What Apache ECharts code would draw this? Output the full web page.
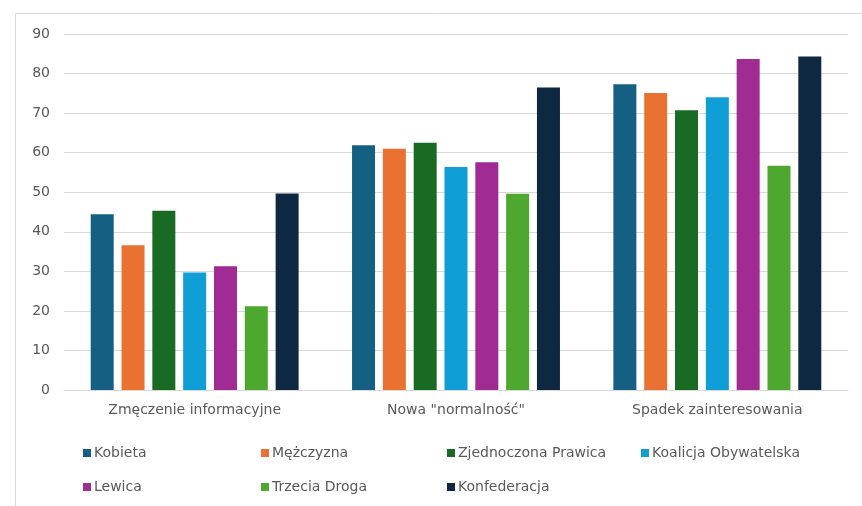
<!DOCTYPE html>
<html><head><meta charset="utf-8">
<script src="https://cdn.jsdelivr.net/npm/echarts@6/dist/echarts.min.js"></script>
<style>html,body{margin:0;padding:0;background:#fff}#c{width:862px;height:506px}</style>
</head><body><div id="c"></div>
<script>
const categories = ['Zmęczenie informacyjne', 'Nowa "normalność"', 'Spadek zainteresowania'];
const seriesNames = ['Kobieta', 'Mężczyzna', 'Zjednoczona Prawica', 'Koalicja Obywatelska', 'Lewica', 'Trzecia Droga', 'Konfederacja'];
const kobieta = [44.4, 61.9, 77.3];
const mezczyzna = [36.6, 61.0, 75.1];
const zjednoczonaPrawica = [45.3, 62.5, 70.7];
const koalicjaObywatelska = [29.7, 56.4, 74.0];
const lewica = [31.3, 57.6, 83.7];
const trzeciaDroga = [21.2, 49.6, 56.7];
const konfederacja = [49.7, 76.5, 84.3];
const values = [kobieta, mezczyzna, zjednoczonaPrawica, koalicjaObywatelska, lewica, trzeciaDroga, konfederacja];
const colors = ['#156082', '#E97132', '#196B24', '#0F9ED5', '#A02B93', '#4EA72E', '#0E2841'];
const legendPos = [[78, 441], [256, 441], [442, 441], [636, 441], [78, 475], [256, 475], [442, 475]];

const chart = echarts.init(document.getElementById('c'), null, {renderer: 'canvas'});
const font = '"DejaVu Sans", sans-serif';
chart.setOption({
  backgroundColor: '#fff',
  animation: false,
  graphic: [{type: 'rect', shape: {x: 15.5, y: 13.5, width: 860, height: 500}, style: {fill: 'none', stroke: '#d9d9d9', lineWidth: 1}, z: -1}],
  grid: {left: 64, right: 14, top: 34, bottom: 116},
  legend: seriesNames.map((n, i) => ({
    data: [n], left: legendPos[i][0], top: legendPos[i][1],
    itemWidth: 8, itemHeight: 8, itemGap: 4, icon: 'rect',
    textStyle: {color: '#595959', fontSize: 14, fontFamily: font, padding: [0, 0, 0, -2]}
  })),
  xAxis: {
    type: 'category', data: categories,
    axisLine: {lineStyle: {color: '#d9d9d9'}}, axisTick: {show: false},
    axisLabel: {color: '#595959', fontSize: 14, fontFamily: font, margin: 13}
  },
  yAxis: {
    type: 'value', min: 0, max: 90, interval: 10,
    axisLine: {show: false}, axisTick: {show: false},
    splitLine: {lineStyle: {color: '#d9d9d9'}},
    axisLabel: {color: '#595959', fontSize: 14, fontFamily: font, margin: 14}
  },
  series: seriesNames.map((n, i) => ({
    name: n, type: 'bar', data: values[i], barWidth: 23, barGap: '34%',
    itemStyle: {color: colors[i]}
  }))
});
</script></body></html>
